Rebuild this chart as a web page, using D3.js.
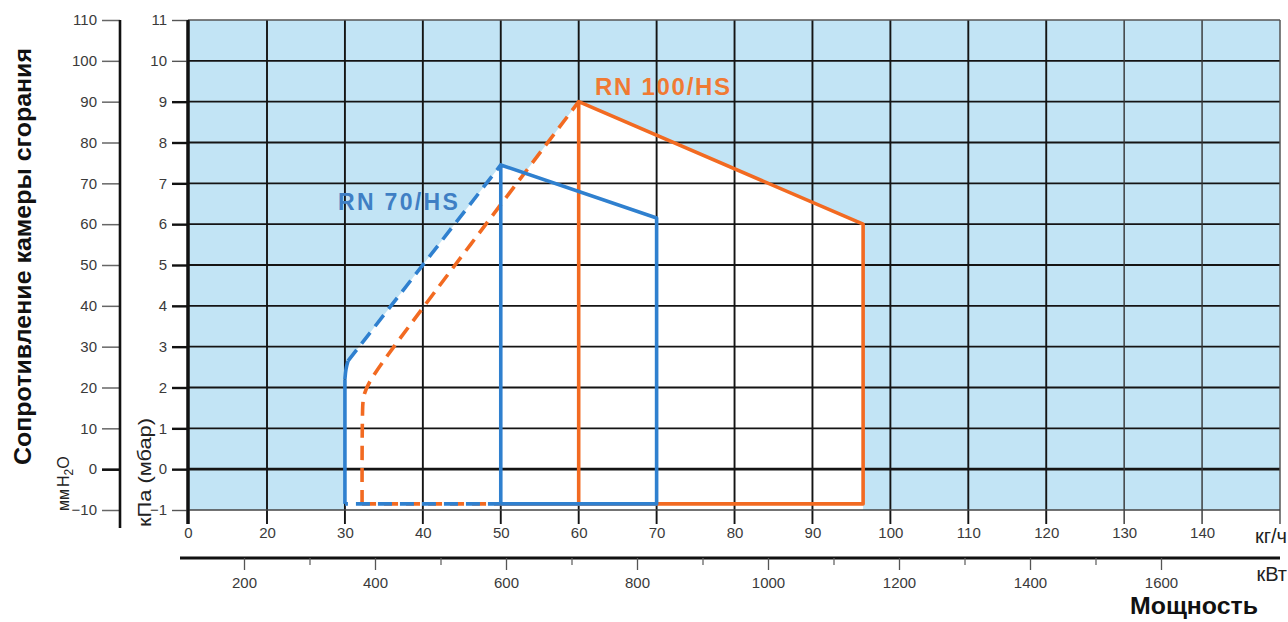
<!DOCTYPE html>
<html>
<head>
<meta charset="utf-8">
<script src="https://cdn.jsdelivr.net/npm/d3@7"></script>
<style>
  html, body { margin: 0; padding: 0; background: #fff; }
  svg { display: block; }
  text { font-family: "Liberation Sans", Arial, Helvetica, sans-serif; }
</style>
</head>
<body>
<svg id="chart" width="1288" height="622"></svg>
<script>
// ---------- data ----------
const kghTicks = [0, 20, 30, 40, 50, 60, 70, 80, 90, 100, 110, 120, 130, 140];
const kPaTicks = [-1, 0, 1, 2, 3, 4, 5, 6, 7, 8, 9, 10, 11];
const mmTicks = [-10, 0, 10, 20, 30, 40, 50, 60, 70, 80, 90, 100, 110];
const kWTicks = [200, 400, 600, 800, 1000, 1200, 1400, 1600];
const kWMinorTicks = [300, 500, 700, 900, 1100, 1300, 1500];

// RN 70/HS working field (kg/h, kPa)
const rn70Area = [[30, -1], [30, 2.2], [30.4, 2.65], [50, 7.45], [70, 6.15], [70, -1]];
const rn70Solid = [[30, 2.2], [30, -0.85]];
const rn70Solid2 = [[50, -0.85], [70, -0.85], [70, 6.15], [50, 7.45], [50, -0.85]];
const rn70Dashed = [[30.4, 2.65], [50, 7.45]];
const rn70DashedBottom = [[30, -0.85], [50, -0.85]];
const rn70Curve = [[30, 2.2], [30.1, 2.45], [30.4, 2.65]];

// RN 100/HS working field (kg/h, kPa)
const rn100Area = [[32.2, -1], [32.2, 2.0], [60, 9.0], [96.5, 6.0], [96.5, -1]];
const rn100Solid = [[60, -0.85], [60, 9.0], [96.5, 6.0], [96.5, -0.85], [50, -0.85]];
const rn100Dashed = [[32.2, -0.85], [32.2, 1.85], [32.6, 2.1], [60, 9.0]];
const rn100DashedBottom = [[32.2, -0.85], [50, -0.85]];

const labels = [
  { text: "RN 100/HS", x: 62.1, y: 9.16, color: "#f07a33", len: 135, size: 24 },
  { text: "RN 70/HS", x: 29.1, y: 6.35, color: "#3f7fc4", len: 120, size: 23 }
];

// ---------- scales ----------
const svg = d3.select("#chart");
const x = d3.scaleLinear().domain([0, 20, 150]).range([188, 267, 1280]);
const y = d3.scaleLinear().domain([-1, 11]).range([510, 20]);
const yMM = d3.scaleLinear().domain([-10, 110]).range([510, 20]);
const xKW = d3.scaleLinear().domain([200, 1600]).range([244, 1161]);

const BLUE = "#2f80cf";
const ORANGE = "#f26a21";

// background
svg.append("rect")
  .attr("x", x(0)).attr("y", y(11))
  .attr("width", x(150) - x(0)).attr("height", y(-1) - y(11))
  .attr("fill", "#c2e4f5");

const line = d3.line().x(d => x(d[0])).y(d => y(d[1]));
const curveLine = d3.line().x(d => x(d[0])).y(d => y(d[1])).curve(d3.curveBasis);

// white working areas
[rn100Area, rn70Area].forEach(a => {
  svg.append("path").attr("d", line(a) + "Z").attr("fill", "#ffffff");
});

// grid
const grid = svg.append("g");
kPaTicks.filter(v => v > -1 && v < 11).forEach(v => {
  grid.append("line")
    .attr("x1", x(0)).attr("x2", x(150))
    .attr("y1", y(v)).attr("y2", y(v))
    .attr("stroke", "#141414")
    .attr("stroke-width", v === 0 ? 2.6 : 1.9);
});
kghTicks.forEach(v => {
  grid.append("line")
    .attr("x1", x(v)).attr("x2", x(v))
    .attr("y1", y(11)).attr("y2", y(-1) + 14)
    .attr("stroke", v >= 130 ? "#333" : "#141414")
    .attr("stroke-width", v === 0 ? 3 : (v >= 130 ? 1.4 : 1.9));
});
// frame top / right / bottom
svg.append("line").attr("x1", x(0)).attr("x2", x(150)).attr("y1", y(11)).attr("y2", y(11))
  .attr("stroke", "#555").attr("stroke-width", 1.5);
svg.append("line").attr("x1", x(150)).attr("x2", x(150)).attr("y1", y(11)).attr("y2", y(-1) + 14)
  .attr("stroke", "#555").attr("stroke-width", 1.5);
svg.append("line").attr("x1", x(0)).attr("x2", x(150)).attr("y1", y(-1)).attr("y2", y(-1))
  .attr("stroke", "#444").attr("stroke-width", 1.5);

// ---------- series ----------
function seg(pts, color, dashed, gen) {
  svg.append("path")
    .attr("d", (gen || line)(pts))
    .attr("fill", "none")
    .attr("stroke", color)
    .attr("stroke-width", 3.6)
    .attr("stroke-linejoin", "round")
    .attr("stroke-dasharray", dashed ? "14,8" : null);
}
seg(rn100Solid, ORANGE, false);
seg(rn100Dashed, ORANGE, true, curveLine);
seg(rn100DashedBottom, ORANGE, true);
seg(rn70Solid2, BLUE, false);
seg(rn70Solid, BLUE, false);
seg(rn70Curve, BLUE, false, curveLine);
seg(rn70Dashed, BLUE, true);
svg.append("path")
  .attr("d", line(rn70DashedBottom))
  .attr("fill", "none").attr("stroke", BLUE).attr("stroke-width", 3.6)
  .attr("stroke-dasharray", "14,8").attr("stroke-dashoffset", 11);

labels.forEach(l => {
  svg.append("text")
    .attr("x", x(l.x)).attr("y", y(l.y))
    .attr("fill", l.color)
    .attr("font-size", l.size).attr("font-weight", "bold")
    .attr("textLength", l.len).attr("lengthAdjust", "spacing")
    .text(l.text);
});

// ---------- axes ----------
const tickFont = g => g.attr("font-size", 15).attr("fill", "#3a3a3a")
  .attr("font-family", "Liberation Sans, Arial, sans-serif");

// kPa axis (plot left border)
const kPaAxis = d3.axisLeft(y).tickValues(kPaTicks).tickSize(16).tickPadding(5);
const gK = svg.append("g").attr("transform", `translate(${x(0)},0)`).call(kPaAxis);
gK.select(".domain").remove();
gK.selectAll(".tick line")
  .attr("stroke-width", d => (d === -1 || d >= 10) ? 1.4 : 2.4)
  .attr("stroke", d => (d === -1 || d >= 10) ? "#555" : "#111");
gK.selectAll(".tick text").call(tickFont);
svg.append("line").attr("x1", x(0)).attr("x2", x(0)).attr("y1", y(11)).attr("y2", y(-1) + 14)
  .attr("stroke", "#111").attr("stroke-width", 3);

// mm H2O axis
const mmAxis = d3.axisLeft(yMM).tickValues(mmTicks).tickSize(18).tickPadding(5);
const gM = svg.append("g").attr("transform", "translate(120,0)").call(mmAxis);
gM.select(".domain").remove();
gM.selectAll(".tick line").attr("stroke", d => d === 0 ? "#111" : "#666")
  .attr("stroke-width", d => d === 0 ? 2.6 : 1.5);
gM.selectAll(".tick text").call(tickFont);
svg.append("line").attr("x1", 120).attr("x2", 120).attr("y1", yMM(110)).attr("y2", yMM(-10) + 18)
  .attr("stroke", "#111").attr("stroke-width", 2.6);

// kg/h axis labels
const kgAxis = d3.axisBottom(x).tickValues(kghTicks).tickSize(0);
const gX = svg.append("g").attr("transform", `translate(0,${y(-1)})`).call(kgAxis);
gX.select(".domain").remove();
gX.selectAll(".tick text").call(tickFont).attr("dy", "0").attr("y", 28);

// kW axis
const kwY = 558;
svg.append("line").attr("x1", 180).attr("x2", 1280).attr("y1", kwY).attr("y2", kwY)
  .attr("stroke", "#111").attr("stroke-width", 3);
const kwAxis = d3.axisBottom(xKW).tickValues(kWTicks).tickSize(12).tickFormat(d3.format("d"));
const gW = svg.append("g").attr("transform", `translate(0,${kwY})`).call(kwAxis);
gW.select(".domain").remove();
gW.selectAll(".tick line").attr("stroke", "#555").attr("stroke-width", 1.3);
gW.selectAll(".tick text").call(tickFont).attr("dy", "0").attr("y", 30);
const kwMinor = d3.axisBottom(xKW).tickValues(kWMinorTicks).tickSize(7).tickFormat("");
const gW2 = svg.append("g").attr("transform", `translate(0,${kwY})`).call(kwMinor);
gW2.select(".domain").remove();
gW2.selectAll(".tick line").attr("stroke", "#666").attr("stroke-width", 1.3);

// unit labels
svg.append("text").attr("x", 1287).attr("y", 543).attr("text-anchor", "end")
  .attr("font-size", 20).attr("fill", "#222").text("кг/ч");
svg.append("text").attr("x", 1287).attr("y", 581).attr("text-anchor", "end")
  .attr("font-size", 20).attr("fill", "#222").text("кВт");
svg.append("text").attr("x", 1258).attr("y", 614).attr("text-anchor", "end")
  .attr("font-size", 23).attr("font-weight", "bold").attr("fill", "#111")
  .attr("textLength", 128).attr("lengthAdjust", "spacingAndGlyphs").text("Мощность");

// vertical titles
svg.append("text")
  .attr("transform", "translate(31,465) rotate(-90)")
  .attr("font-size", 24).attr("font-weight", "bold").attr("fill", "#111")
  .attr("textLength", 417).attr("lengthAdjust", "spacingAndGlyphs")
  .text("Сопротивление камеры сгорания");

const mmLabel = svg.append("text")
  .attr("transform", "translate(69,511) rotate(-90)")
  .attr("font-size", 16).attr("fill", "#222");
mmLabel.append("tspan").text("мм");
mmLabel.append("tspan").attr("dx", 2).text("H");
mmLabel.append("tspan").attr("font-size", 12).attr("dy", 4).text("2");
mmLabel.append("tspan").attr("dy", -4).text("O");

svg.append("text")
  .attr("transform", "translate(151,527) rotate(-90)")
  .attr("font-size", 19).attr("fill", "#222")
  .attr("textLength", 109).attr("lengthAdjust", "spacingAndGlyphs")
  .text("кПа (мбар)");
</script>
</body>
</html>
